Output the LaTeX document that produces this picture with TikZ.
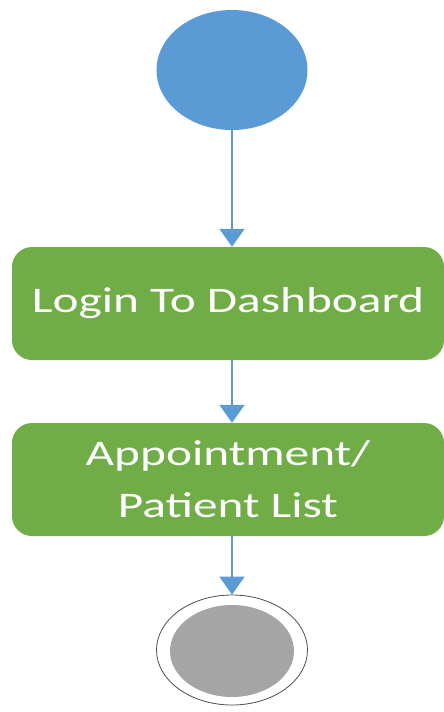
\documentclass[tikz,border=0pt]{standalone}
\usepackage{fontspec}
\setmainfont{Carlito}
\usetikzlibrary{shapes.geometric,arrows.meta}
\definecolor{ublue}{HTML}{5B9BD5}
\definecolor{ugreen}{HTML}{70AD47}
\definecolor{ugray}{HTML}{A5A5A5}
\newcommand{\wide}[1]{\scalebox{1.37}[1]{#1}}
\tikzset{
  actbox/.style={draw=none,fill=ugreen,rounded corners=20pt,minimum width=432pt,minimum height=113pt,inner sep=0pt,text=white,font=\fontsize{36pt}{52pt}\selectfont,align=center},
  flow/.style={draw=ublue,line width=2pt,-{Triangle[width=25pt,length=18pt]}}
}
\begin{document}
\begin{tikzpicture}[x=1pt,y=-1pt]
\useasboundingbox (0,0) rectangle (444,712);
\node[ellipse,fill=ublue,minimum width=151pt,minimum height=120pt,inner sep=0pt] (start) at (232,70) {};
\node[actbox] (login) at (228,303.5) {\wide{Login To Dashboard}};
\node[actbox] (list) at (228,479.5) {\wide{Appointment/}\\\wide{Patient List}};
\node[ellipse,draw=black!70,line width=0.8pt,fill=white,minimum width=151pt,minimum height=110pt,inner sep=0pt] (end) at (232,650) {};
\node[ellipse,fill=ugray,minimum width=124pt,minimum height=92pt,inner sep=0pt] (endin) at (232,651) {};
\draw[flow] (start.south) -- (start.south |- login.north);
\draw[flow] (login.south -| start.south) -- (list.north -| start.south);
\draw[flow] (list.south -| start.south) -- (end.north);
\end{tikzpicture}
\end{document}
